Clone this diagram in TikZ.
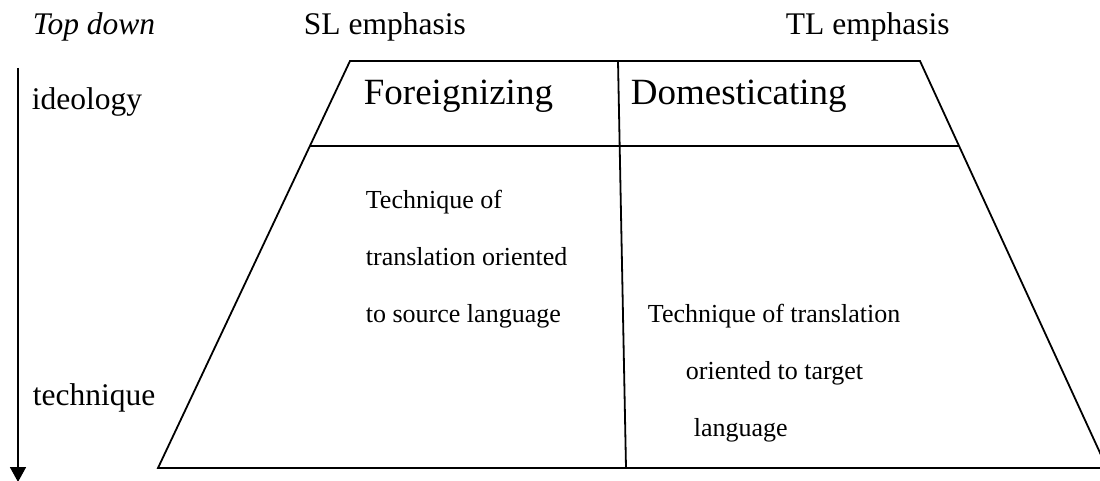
\documentclass[tikz,border=0pt]{standalone}
\usepackage{fontspec}
\setmainfont{Liberation Serif}
\usetikzlibrary{arrows.meta}

\begin{document}
\begin{tikzpicture}[x=1pt,y=-1pt,line width=1.8pt,
    label/.style={anchor=base west,inner sep=0pt,font=\fontsize{31.5}{37}\selectfont},
    head/.style={anchor=base west,inner sep=0pt,font=\fontsize{37}{44}\selectfont},
    body/.style={anchor=base west,inner sep=0pt,font=\fontsize{26}{31}\selectfont}]
    \useasboundingbox (0,0) rectangle (1100,481);
    \clip (0,0) rectangle (1100,481);

    % Corners of the trapezoid
    \coordinate (tl) at (350,61);
    \coordinate (tr) at (920,61);
    \coordinate (bl) at (158,468);
    \coordinate (br) at (1107,468);
    \coordinate (ml) at (310,146);
    \coordinate (mr) at (959,146);
    \coordinate (dt) at (618,61);
    \coordinate (db) at (626,468);

    % Trapezoid and its divisions
    \draw (tl) -- (tr) -- (br) -- (bl) -- cycle;
    \draw (ml) -- (mr);
    \draw (dt) -- (db);

    % Top down arrow
    \coordinate (atop) at (18,68);
    \coordinate (abot) at (18,482);
    \draw[-{Triangle[width=16pt,length=15pt]}] (atop) -- (abot);

    % Headings
    \node[label,font=\fontsize{31.5}{37}\selectfont\itshape] (topdown) at (32,35) {Top down};
    \node[label] (sl) at (303,35) {SL emphasis};
    \node[label] (tl-emph) at (785,35) {TL emphasis};
    \node[label] (ideology) at (31,110) {ideology};
    \node[label] (technique) at (32,405) {technique};

    % Column titles
    \node[head] (foreign) at (363,105) {Foreignizing};
    \node[head] (domestic) at (630,105) {Domesticating};

    % Source language side
    \node[body] (sl1) at (365,208) {Technique of};
    \node[body] (sl2) at (365,265) {translation oriented};
    \node[body] (sl3) at (365,322) {to source language};

    % Target language side
    \node[body] (tl1) at (647,322) {Technique of translation};
    \node[body] (tl2) at (685,379) {oriented to target};
    \node[body] (tl3) at (693,436) {language};
\end{tikzpicture}
\end{document}
